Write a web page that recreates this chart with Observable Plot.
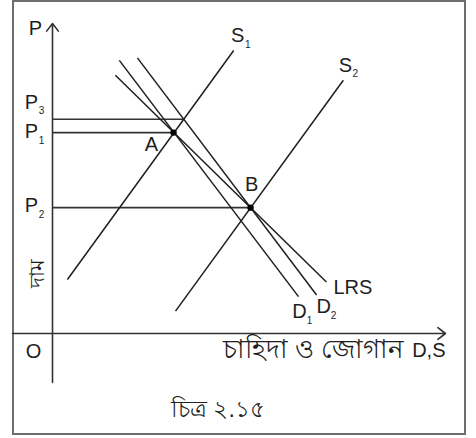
<!DOCTYPE html>
<html>
<head>
<meta charset="utf-8">
<script src="https://cdn.jsdelivr.net/npm/d3@7"></script>
<script src="https://cdn.jsdelivr.net/npm/@observablehq/plot@0.6"></script>
<style>
  body { margin: 0; background: #fff; }
  #wrap { position: relative; width: 476px; height: 438px; }
  #border { position: absolute; left: 12px; top: 0; width: 450px; height: 431px; border: 2px solid #6e6e6e; }
  #chart { position: absolute; left: 0; top: 0; }
  #caption { position: absolute; left: 0; top: 391px; width: 436px; text-align: center;
             font: 23px "Liberation Sans", "Noto Sans", sans-serif; color: #222; }
</style>
</head>
<body>
<div id="wrap">
  <div id="border"></div>
  <div id="chart"></div>
  <div id="caption">চিত্র ২.১৫</div>
</div>
<script>
// Curves (quantity, price) endpoints
const curveNames = ["S1", "S2", "D1", "D2", "LRS"];
const curveQ0 = [3.8, 31.3, 17.0, 21.6, 16.0];
const curveP0 = [17.4, 7.2, 88.1, 88.9, 83.3];
const curveQ1 = [46.1, 74.0, 62.6, 67.2, 69.7];
const curveP1 = [91.3, 81.7, 11.9, 12.4, 16.6];

// Equilibrium points
const pointNames = ["A", "B"];
const pointQ = [30.8, 50.4];
const pointP = [64.8, 40.6];

// Price levels on the P axis
const priceNames = ["P3", "P1", "P2"];
const priceLevels = [69.1, 64.8, 40.6];
const priceQEnd = [33.4, 30.8, 50.4];

// Axes
const axisQMin = -10.2, axisQMax = 100;
const axisPMin = -15.8, axisPMax = 100;

const curves = curveNames.map((n, i) => ({name: n, q0: curveQ0[i], p0: curveP0[i], q1: curveQ1[i], p1: curveP1[i]}));
const points = pointNames.map((n, i) => ({name: n, q: pointQ[i], p: pointP[i]}));
const prices = priceNames.map((n, i) => ({name: n, p: priceLevels[i], q: priceQEnd[i]}));
const axes = [
  {q0: 0, p0: axisPMin, q1: 0, p1: axisPMax},
  {q0: axisQMin, p0: 0, q1: axisQMax, p1: 0}
];

const ink = "#1e1e1e";
const fontMain = 20;
const fontSub = 10;
const C = Object.fromEntries(curves.map(c => [c.name, c]));
const PT = Object.fromEntries(points.map(c => [c.name, c]));
const PR = Object.fromEntries(prices.map(c => [c.name, c]));

// one text at a datum's position with a pixel offset
const lab = (d, xf, yf, t, dx, dy, size = fontMain, extra = {}) =>
  Plot.text([d], {x: xf, y: yf, text: () => t, dx, dy, fontSize: size, fill: ink, ...extra});
// main letter + subscript
const sub = (d, xf, yf, t, s, dx, dy) => [
  lab(d, xf, yf, t, dx, dy, fontMain),
  lab(d, xf, yf, s, dx + 10, dy + 9, fontSub)
];

const chart = Plot.plot({
  width: 476,
  height: 390,
  marginLeft: 52,
  marginRight: 31,
  marginTop: 23,
  marginBottom: 57,
  x: {domain: [0, 100], axis: null},
  y: {domain: [0, 100], axis: null},
  style: {fontFamily: "'Liberation Sans', Arial, sans-serif", background: "transparent", overflow: "visible"},
  marks: [
    Plot.arrow(axes, {x1: "q0", y1: "p0", x2: "q1", y2: "p1", stroke: "#333", strokeWidth: 1.6, headLength: 9, headAngle: 75}),
    Plot.ruleY(prices, {y: "p", x1: 0, x2: "q", stroke: "#333", strokeWidth: 1.6}),
    Plot.link(curves, {x1: "q0", y1: "p0", x2: "q1", y2: "p1", stroke: ink, strokeWidth: 1.5}),
    Plot.dot(points, {x: "q", y: "p", r: 3.2, fill: "#000"}),
    lab(PT.A, "q", "p", "A", -22, 12),
    lab(PT.B, "q", "p", "B", 1, -23),
    // price labels
    ...sub(PR.P3, () => 0, "p", "P", "3", -21, -17),
    ...sub(PR.P1, () => 0, "p", "P", "1", -21, -1),
    ...sub(PR.P2, () => 0, "p", "P", "2", -21, -2),
    // axis labels
    lab(axes[0], "q1", "p1", "P", -17, 5),
    lab(axes[0], "q0", () => 0, "O", -19, 18),
    lab(axes[0], "q0", () => 19.4, "দাম", -15, 0, 21, {rotate: -90}),
    lab(axes[1], "q1", "p0", "চাহিদা ও জোগান", -41, 16, 26, {textAnchor: "end"}),
    lab(axes[1], "q1", "p0", "D,S", 0, 17, fontMain, {textAnchor: "end"}),
    // curve labels
    ...sub(C.S1, "q1", "p1", "S", "1", 4, -15),
    ...sub(C.S2, "q1", "p1", "S", "2", 2, -15),
    lab(C.LRS, "q1", "p1", "LRS", 7, 6, fontMain, {textAnchor: "start"}),
    ...sub(C.D1, "q1", "p1", "D", "1", 1, 15),
    ...sub(C.D2, "q1", "p1", "D", "2", 7, 12)
  ]
});
document.getElementById("chart").appendChild(chart);
</script>
</body>
</html>
